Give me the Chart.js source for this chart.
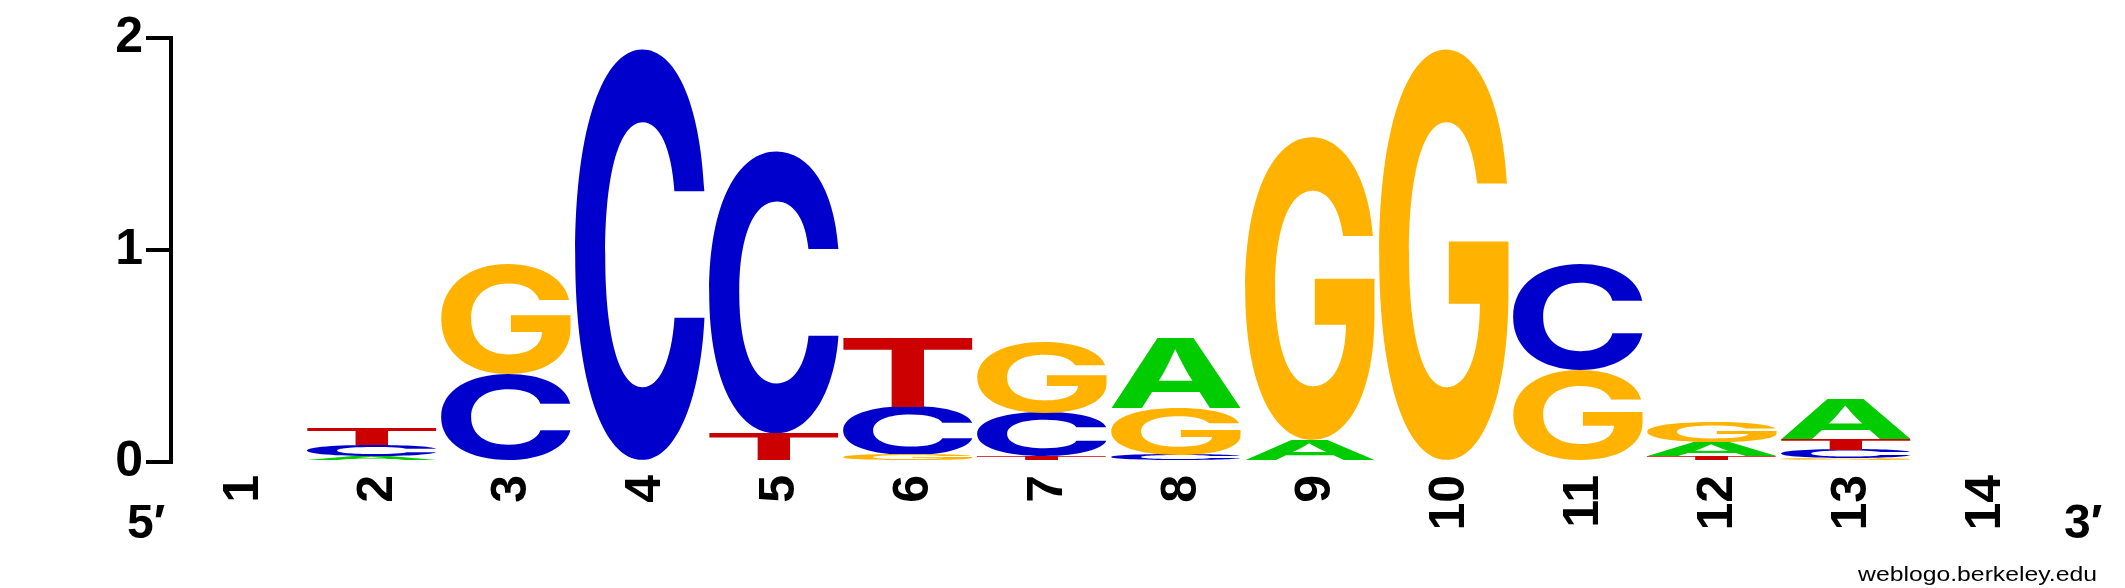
<!DOCTYPE html>
<html>
<head>
<meta charset="utf-8">
<script src="https://cdn.jsdelivr.net/npm/chart.js@4.4.1/dist/chart.umd.min.js"></script>
<style>
  html, body { margin: 0; padding: 0; background: #fff; }
  #wrap { width: 2125px; height: 588px; }
</style>
</head>
<body>
<div id="wrap"><canvas id="logo" width="2125" height="588"></canvas></div>
<script>
var positions = ['1', '2', '3', '4', '5', '6', '7', '8', '9', '10', '11', '12', '13', '14'];
var bitsA = [0, 0.028, 0,     0,    0,     0,     0,     0.33,  0.104, 0,    0,     0.066, 0.19,  0];
var bitsC = [0, 0.052, 0.415, 1.94, 1.325, 0.225, 0.205, 0.035, 0,     0,    0.50,  0,     0.04,  0];
var bitsG = [0, 0,     0.52,  0,    0,     0.035, 0.335, 0.218, 1.424, 1.94, 0.434, 0.095, 0.018, 0];
var bitsT = [0, 0.08,  0,     0,    0.135, 0.325, 0.028, 0,     0,     0,    0,     0.028, 0.05,  0];
var yTicks = [0, 1, 2];

var letters = ['A', 'C', 'G', 'T'];
var bits = { A: bitsA, C: bitsC, G: bitsG, T: bitsT };
var letterColors = { A: '#00cc00', C: '#0000cc', G: '#ffb300', T: '#cc0000' };

var FONT = '"Liberation Sans", Arial, Helvetica, sans-serif';
var GLYPH_FONT = 'Inter, "Liberation Sans", Arial, sans-serif';

// stack the letters at each position, smallest at the bottom
var ranges = { A: [], C: [], G: [], T: [] };
positions.forEach(function(p, i) {
  var order = letters.slice().sort(function(a, b) { return bits[a][i] - bits[b][i]; });
  var base = 0;
  order.forEach(function(l) {
    var h = bits[l][i];
    ranges[l][i] = h > 0 ? [base, base + h] : null;
    base += h;
  });
});

function drawGlyph(ctx, ch, color, x, y, w, h) {
  ctx.save();
  ctx.font = 'bold 200px ' + GLYPH_FONT;
  ctx.textAlign = 'left';
  ctx.textBaseline = 'alphabetic';
  var m = ctx.measureText(ch);
  var gw = m.actualBoundingBoxLeft + m.actualBoundingBoxRight;
  var gh = m.actualBoundingBoxAscent + m.actualBoundingBoxDescent;
  ctx.translate(x, y);
  ctx.scale(w / gw, h / gh);
  ctx.fillStyle = color;
  ctx.fillText(ch, m.actualBoundingBoxLeft, m.actualBoundingBoxAscent);
  ctx.restore();
}

// each bar gets its letter stretched to fill it
var glyphPlugin = {
  id: 'glyphs',
  afterDatasetsDraw: function(chart) {
    var ctx = chart.ctx;
    chart.data.datasets.forEach(function(ds, di) {
      var meta = chart.getDatasetMeta(di);
      meta.data.forEach(function(bar, i) {
        if (!ds.data[i]) return;
        var top = Math.min(bar.y, bar.base);
        var h = Math.abs(bar.base - bar.y);
        if (h < 0.5) return;
        drawGlyph(ctx, ds.label, letterColors[ds.label], bar.x - bar.width / 2, top, bar.width, h);
      });
    });
  },
  afterDraw: function(chart) {
    var ctx = chart.ctx;
    ctx.save();
    ctx.fillStyle = '#000';
    ctx.textAlign = 'left';
    ctx.textBaseline = 'alphabetic';
    ctx.font = 'bold 48px ' + FONT;
    ctx.fillText('5\u2032', 127, 538);
    ctx.fillText('3\u2032', 2064, 538);

    // credit line, a little narrow-tall in the original
    ctx.font = '21px ' + FONT;
    var txt = 'weblogo.berkeley.edu';
    var tw = ctx.measureText(txt).width;
    ctx.translate(2097, 581);
    ctx.scale(239 / tw, 1);
    ctx.textAlign = 'right';
    ctx.fillText(txt, 0, 0);
    ctx.restore();
  }
};

var datasets = letters.map(function(l) {
  return {
    label: l,
    data: ranges[l],
    backgroundColor: 'rgba(0,0,0,0)',
    borderWidth: 0,
    grouped: false,
    barPercentage: 0.97,
    categoryPercentage: 1.0
  };
});

new Chart(document.getElementById('logo'), {
  type: 'bar',
  data: { labels: positions, datasets: datasets },
  options: {
    responsive: false,
    animation: false,
    layout: { padding: { left: 0, right: 78, top: 38, bottom: 0 } },
    plugins: {
      legend: { display: false },
      tooltip: { enabled: false }
    },
    scales: {
      x: {
        grid: { display: false },
        border: { display: false },
        ticks: {
          color: '#000',
          font: { family: FONT, size: 50, weight: 'bold' },
          minRotation: 90,
          maxRotation: 90,
          autoSkip: false,
          labelOffset: 6,
          padding: 5
        },
        afterFit: function(s) { s.height = 126; }
      },
      y: {
        min: 0,
        max: 2,
        afterBuildTicks: function(s) {
          s.ticks = yTicks.map(function(v) { return { value: v }; });
        },
        grid: { drawOnChartArea: false, drawTicks: true, tickLength: 25, lineWidth: 4, color: '#000' },
        border: { display: true, color: '#000', width: 4 },
        ticks: {
          color: '#000',
          font: { family: FONT, size: 50, weight: 'bold' },
          padding: 3
        },
        afterFit: function(s) { s.width = 171; }
      }
    }
  },
  plugins: [glyphPlugin]
});
</script>
</body>
</html>
